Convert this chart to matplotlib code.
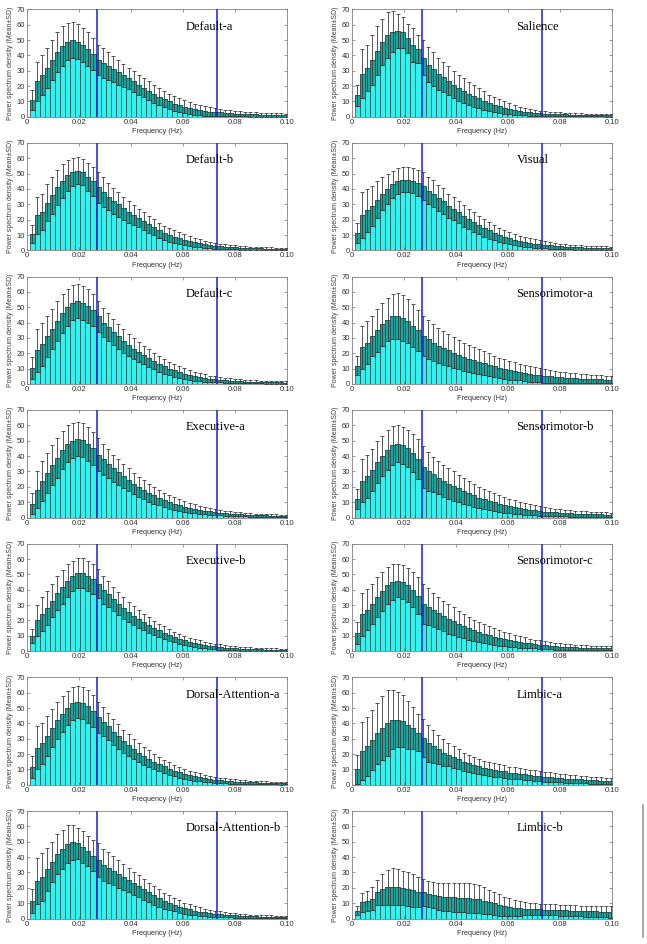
import numpy as np
import matplotlib
matplotlib.use('Agg')
import matplotlib.pyplot as plt
from matplotlib.lines import Line2D

# frequency bins (Hz), resolution 1/512
freq = np.arange(1, 52) / 512.0
band_lo, band_hi = 0.027, 0.073

names = ['Default-a', 'Salience', 'Default-b', 'Visual', 'Default-c', 'Sensorimotor-a',
         'Executive-a', 'Sensorimotor-b', 'Executive-b', 'Sensorimotor-c',
         'Dorsal-Attention-a', 'Limbic-a', 'Dorsal-Attention-b', 'Limbic-b']

default_a_mean = [11, 23, 27, 32, 37, 42, 46, 49, 50, 49, 47, 44, 41, 37,
                  35, 33, 31, 29, 27, 25, 23, 21, 19, 17, 15, 13, 11.5, 10, 8.5, 7.5,
                  6.5, 5.6, 4.9, 4.3, 3.8, 3.4, 3.1, 2.8, 2.5, 2.3, 2.1, 1.9, 1.8, 1.6, 1.5, 1.4, 1.3, 1.2, 1.1, 1.1, 1.0]
default_a_sd = [6.5, 13, 13, 13, 13, 13, 13, 12, 11.5, 11.5, 11, 11, 10.5, 10,
                9.5, 9, 8.5, 8, 7.5, 7, 6.8, 6.5, 6.2, 6, 5.8, 5.5, 5.2, 5, 4.8, 4.5,
                4.2, 4, 3.7, 3.4, 3.1, 2.8, 2.5, 2.3, 2.1, 1.9, 1.8, 1.7, 1.6, 1.5, 1.4, 1.3, 1.3, 1.2, 1.2, 1.1, 1.1]

salience_mean = [14, 28, 32, 37, 43, 49, 53, 55.5, 56, 55, 51, 47, 44, 38.5,
                 34, 31, 28, 26, 23.5, 21, 19, 17, 15, 13.5, 12, 10.5, 9, 8, 7, 6,
                 5.2, 4.5, 3.9, 3.4, 3, 2.6, 2.3, 2.1, 1.9, 1.7, 1.6, 1.5, 1.4, 1.3, 1.2, 1.1, 1.1, 1.0, 1.0, 0.9, 0.9]
salience_sd = [7, 16, 15, 16, 16, 15, 15, 13.5, 11, 10, 9.5, 11, 9, 11.5,
               11.5, 11, 10.5, 10, 9.5, 9, 8.5, 8, 7.5, 7, 6.5, 6, 5.5, 5, 4.5, 4,
               3.6, 3.2, 2.8, 2.5, 2.2, 2, 1.8, 1.6, 1.5, 1.4, 1.3, 1.2, 1.1, 1.0, 1.0, 0.9, 0.9, 0.8, 0.8, 0.8, 0.8]

default_b_mean = [10.5, 23, 25, 31, 36, 41, 45, 49, 51, 52, 51, 48, 45, 41,
                  38, 35, 32, 30, 27.5, 25, 23, 21, 19, 17, 15, 13, 11.5, 10, 9, 8,
                  7, 6, 5.2, 4.5, 3.9, 3.4, 3, 2.7, 2.4, 2.1, 1.9, 1.7, 1.6, 1.5, 1.4, 1.3, 1.2, 1.1, 1.0, 1.0, 0.9]
default_b_sd = [6, 12, 12, 12, 12, 11.5, 11, 10, 9, 8.5, 8.5, 9, 9.5, 10,
                9.5, 9, 8.5, 8, 7.5, 7, 6.5, 6, 5.8, 5.5, 5.2, 5, 4.7, 4.4, 4.1, 3.8,
                3.5, 3.2, 2.9, 2.6, 2.3, 2.1, 1.9, 1.7, 1.5, 1.4, 1.3, 1.2, 1.1, 1.0, 1.0, 0.9, 0.9, 0.8, 0.8, 0.8, 0.8]

visual_mean = [11.5, 23, 26, 29, 33, 37, 40, 43, 45, 46, 46, 45.5, 44, 42,
               39, 37, 34, 32, 29, 27, 25, 22.5, 20.5, 18.5, 16.5, 14.5, 13, 11.5, 10, 9,
               8, 7, 6.2, 5.5, 4.9, 4.4, 4, 3.6, 3.2, 2.9, 2.6, 2.4, 2.2, 2, 1.9, 1.8, 1.7, 1.6, 1.5, 1.5, 1.4]
visual_sd = [6.5, 15, 14, 13, 12, 11, 10, 9, 8.5, 8, 8, 8, 8.5, 9,
             9, 9, 8.5, 8.5, 8, 7.5, 7.2, 7, 6.7, 6.4, 6, 5.7, 5.4, 5, 4.7, 4.4,
             4.1, 3.8, 3.5, 3.2, 2.9, 2.7, 2.5, 2.3, 2.1, 1.9, 1.8, 1.7, 1.6, 1.5, 1.4, 1.3, 1.3, 1.2, 1.2, 1.1, 1.1]

default_c_mean = [10.5, 22, 26, 31, 36, 41, 46, 50, 53, 54, 53, 51, 48, 44,
                  40, 37, 34, 31, 28, 25.5, 23, 21, 19, 17, 15, 13, 11.5, 10, 8.8, 7.6,
                  6.6, 5.7, 5, 4.4, 3.9, 3.4, 3, 2.7, 2.4, 2.2, 2, 1.8, 1.6, 1.5, 1.4, 1.3, 1.2, 1.1, 1.0, 1.0, 0.9]
default_c_sd = [7, 14, 14, 13.5, 13, 13, 12.5, 12, 11.5, 11, 11, 11, 10.5, 10,
                9.5, 9, 8.5, 8, 7.5, 7, 6.7, 6.4, 6, 5.7, 5.4, 5, 4.7, 4.4, 4.1, 3.8,
                3.5, 3.2, 2.9, 2.6, 2.3, 2.1, 1.9, 1.7, 1.5, 1.4, 1.3, 1.2, 1.1, 1.0, 1.0, 0.9, 0.9, 0.8, 0.8, 0.8, 0.8]

sensorimotor_a_mean = [12, 24, 27, 31, 35, 39, 42, 44, 44, 43, 41, 38, 35, 31,
                       29, 27, 25, 23.5, 22, 20.5, 19, 17.5, 16.5, 15.5, 14.5, 13.5, 12.5, 11.5, 10.5, 9.8,
                       9, 8.4, 7.8, 7.2, 6.6, 6.1, 5.6, 5.2, 4.9, 4.6, 4.3, 4.1, 3.9, 3.7, 3.5, 3.3, 3.2, 3.1, 3.0, 2.9, 2.8]
sensorimotor_a_sd = [6, 14, 14, 13, 14, 14, 14, 14.5, 15, 15, 14.5, 14, 13.5, 13,
                     12.5, 12, 11.5, 11, 10.5, 10, 9.5, 9, 8.7, 8.4, 8, 7.7, 7.4, 7, 6.7, 6.4,
                     6.1, 5.8, 5.5, 5.2, 5, 4.8, 4.6, 4.4, 4.2, 4, 3.8, 3.6, 3.4, 3.2, 3.0, 2.9, 2.8, 2.7, 2.6, 2.5, 2.4]

executive_a_mean = [9, 18, 24, 29, 34, 39, 44, 48, 50, 51, 50.5, 48, 45, 41,
                    38, 35, 32, 29.5, 27, 24.5, 22, 20, 18, 16, 14.5, 13, 11.5, 10.2, 9, 8,
                    7.1, 6.3, 5.6, 5, 4.5, 4, 3.6, 3.2, 2.9, 2.6, 2.3, 2.1, 1.9, 1.7, 1.6, 1.5, 1.4, 1.3, 1.2, 1.1, 1.0]
executive_a_sd = [7, 12, 13, 13, 13, 13, 12.5, 12, 11.5, 11, 11, 11, 11, 10.5,
                  10, 9.5, 9, 8.5, 8, 7.5, 7, 6.6, 6.2, 5.8, 5.4, 5, 4.7, 4.4, 4.1, 3.8,
                  3.5, 3.2, 2.9, 2.6, 2.4, 2.2, 2, 1.8, 1.6, 1.5, 1.4, 1.3, 1.2, 1.1, 1.0, 1.0, 0.9, 0.9, 0.8, 0.8, 0.8]

sensorimotor_b_mean = [12, 24, 27, 31, 36, 40, 44, 47, 48, 47, 45, 42, 38, 33,
                       30, 28, 26, 24, 22, 20.5, 19, 17.5, 16, 14.5, 13, 12, 11, 10, 9, 8.2,
                       7.5, 6.8, 6.2, 5.6, 5.1, 4.7, 4.3, 3.9, 3.6, 3.3, 3.1, 2.9, 2.7, 2.5, 2.4, 2.3, 2.2, 2.1, 2.0, 1.9, 1.8]
sensorimotor_b_sd = [6.5, 14, 14, 13.5, 13.5, 13, 13, 12.5, 12, 12, 12, 12.5, 13, 13.5,
                     12.5, 11.5, 11, 10.5, 10, 9.5, 9, 8.5, 8, 7.5, 7, 6.6, 6.2, 5.8, 5.4, 5,
                     4.7, 4.4, 4.1, 3.8, 3.5, 3.2, 3, 2.8, 2.6, 2.4, 2.3, 2.2, 2.1, 2.0, 1.9, 1.8, 1.7, 1.6, 1.5, 1.5, 1.4]

executive_b_mean = [10, 20, 24, 28, 33, 38, 42, 46, 49, 51, 51, 49, 47, 44,
                    40, 37, 34, 31, 28, 25.5, 23, 21, 19, 17, 15, 13.5, 12, 10.5, 9.2, 8,
                    7, 6.1, 5.3, 4.6, 4, 3.5, 3.1, 2.7, 2.4, 2.1, 1.9, 1.7, 1.5, 1.4, 1.3, 1.2, 1.1, 1.0, 1.0, 0.9, 0.9]
executive_b_sd = [4.5, 10, 11, 11, 11, 11, 11, 10.5, 10, 10, 10, 10, 9.5, 9.5,
                  9, 8.5, 8, 7.5, 7, 6.6, 6.2, 5.8, 5.4, 5, 4.7, 4.4, 4.1, 3.8, 3.5, 3.2,
                  3, 2.8, 2.6, 2.4, 2.2, 2, 1.8, 1.7, 1.6, 1.5, 1.4, 1.3, 1.2, 1.1, 1.0, 1.0, 0.9, 0.9, 0.8, 0.8, 0.8]

sensorimotor_c_mean = [12, 24, 27, 31, 35, 39, 43, 45, 46, 45, 43, 40, 36, 31,
                       29, 27, 25, 23, 21, 19.5, 18, 16.5, 15, 13.5, 12.5, 11.5, 10.5, 9.5, 8.7, 8,
                       7.3, 6.7, 6.1, 5.6, 5.1, 4.7, 4.3, 3.9, 3.6, 3.3, 3.0, 2.8, 2.6, 2.5, 2.4, 2.3, 2.2, 2.1, 2.0, 1.9, 1.8]
sensorimotor_c_sd = [7, 14, 13.5, 13, 13, 12.5, 12, 11.5, 11, 11, 11, 11.5, 12, 13,
                     12, 11, 10.5, 10, 9.5, 9, 8.5, 8, 7.5, 7, 6.6, 6.2, 5.8, 5.4, 5, 4.6,
                     4.3, 4, 3.7, 3.4, 3.1, 2.9, 2.7, 2.5, 2.3, 2.2, 2.1, 2.0, 1.9, 1.8, 1.7, 1.6, 1.5, 1.5, 1.4, 1.4, 1.3]

dorsal_a_mean = [11.5, 24, 27, 32, 37, 42, 46, 50, 53, 54, 53.5, 51, 48, 44,
                 41, 38, 34.5, 31.5, 28.5, 26, 23.5, 21, 19, 17, 15, 13.5, 12, 10.5, 9.3, 8.2,
                 7.2, 6.3, 5.5, 4.8, 4.2, 3.7, 3.3, 2.9, 2.6, 2.3, 2.1, 1.9, 1.7, 1.6, 1.5, 1.4, 1.3, 1.2, 1.1, 1.0, 1.0]
dorsal_a_sd = [7, 14, 13.5, 13, 12.5, 12, 11.5, 11, 10.5, 10.5, 10.5, 10.5, 10.5, 10,
               9.5, 9, 8.5, 8, 7.5, 7, 6.6, 6.2, 5.8, 5.4, 5, 4.7, 4.4, 4.1, 3.8, 3.5,
               3.2, 3, 2.8, 2.6, 2.4, 2.2, 2, 1.8, 1.7, 1.6, 1.5, 1.4, 1.3, 1.2, 1.1, 1.0, 1.0, 0.9, 0.9, 0.9, 0.8]

limbic_a_mean = [10, 22, 25, 29, 33.5, 37, 40, 42.5, 42.5, 41.5, 39, 37, 34, 30.5,
                 27, 25, 23, 21, 19.5, 18, 16.5, 15, 14, 13, 12, 11, 10.3, 9.7, 9.2, 8.7,
                 8.0, 7.6, 7.2, 6.8, 6.4, 6.0, 5.6, 5.3, 5.0, 4.7, 4.4, 4.1, 3.9, 3.7, 3.5, 3.3, 3.1, 2.9, 2.7, 2.5, 2.3]
limbic_a_sd = [9.5, 19, 19, 19.5, 20, 21, 21.5, 19.5, 18, 17, 15.5, 13.5, 12, 12.5,
               12, 10.5, 9.5, 8.5, 7.5, 7, 6.5, 6, 5.7, 5.4, 5.1, 4.8, 4.6, 4.4, 4.2, 4,
               3.9, 3.8, 3.7, 3.6, 3.5, 3.4, 3.3, 3.2, 3.1, 3.0, 2.9, 2.8, 2.7, 2.6, 2.5, 2.4, 2.3, 2.2, 2.1, 2.0, 1.9]

dorsal_b_mean = [11.5, 24.5, 27, 32, 37, 42, 45, 48.5, 49.5, 49, 46.5, 44, 41, 38,
                 35, 33, 31, 29, 27, 25, 23, 21, 19, 17, 15, 13.3, 11.7, 10.3, 9, 7.8,
                 6.8, 5.9, 5.1, 4.5, 4, 3.5, 3.1, 2.8, 2.5, 2.2, 2, 1.8, 1.6, 1.5, 1.4, 1.3, 1.2, 1.1, 1.0, 1.0, 0.9]
dorsal_b_sd = [8, 15, 15.5, 14, 13, 13, 12.5, 12.5, 11.5, 10, 10.5, 10, 10, 11,
               10.5, 10, 9.5, 9, 8.5, 8, 7.6, 7.2, 6.8, 6.4, 6, 5.6, 5.2, 4.8, 4.4, 4,
               3.6, 3.3, 3, 2.7, 2.4, 2.2, 2, 1.8, 1.6, 1.5, 1.4, 1.3, 1.2, 1.1, 1.0, 1.0, 0.9, 0.9, 0.8, 0.8, 0.8]

limbic_b_mean = [5, 10.5, 11.5, 13, 17, 19, 20.2, 20.6, 20.6, 19.8, 19, 18.4, 17.5, 17,
                 16, 15.2, 14.6, 14.2, 13.9, 13.7, 13.6, 13.5, 13.3, 13, 12.4, 11.6, 10.8, 9.8, 8.9, 8,
                 7.3, 6.9, 6.6, 6.4, 6.2, 6.0, 5.9, 5.8, 5.7, 5.6, 5.5, 5.3, 5.2, 5.0, 4.9, 4.8, 4.7, 4.6, 4.5, 4.4, 4.3]
limbic_b_sd = [3, 6, 6.5, 7.5, 8, 10, 11.5, 12, 11.5, 11.2, 11, 10.6, 9.8, 8.8,
               8.5, 8.6, 8.8, 9, 9.1, 9.3, 9.4, 9.5, 9.5, 9.5, 9.1, 8.6, 8, 7.5, 7, 6.3,
               5.8, 5.3, 4.9, 4.4, 4.1, 3.9, 3.7, 3.6, 3.6, 3.6, 3.6, 3.6, 3.5, 3.5, 3.5, 3.5, 3.5, 3.5, 3.6, 3.6, 3.7]

means = [default_a_mean, salience_mean, default_b_mean, visual_mean, default_c_mean,
         sensorimotor_a_mean, executive_a_mean, sensorimotor_b_mean, executive_b_mean,
         sensorimotor_c_mean, dorsal_a_mean, limbic_a_mean, dorsal_b_mean, limbic_b_mean]
sds = [default_a_sd, salience_sd, default_b_sd, visual_sd, default_c_sd,
       sensorimotor_a_sd, executive_a_sd, sensorimotor_b_sd, executive_b_sd,
       sensorimotor_c_sd, dorsal_a_sd, limbic_a_sd, dorsal_b_sd, limbic_b_sd]

W, H = 647, 944
fig = plt.figure(figsize=(W / 100, H / 100), dpi=100)

col_x = [27, 352]
ax_w = 260
ax_h = 107.5
row_top = [9.3, 142.9, 276.5, 410, 543.7, 677.3, 811]
label_x = [0.612, 0.633]

bw = 1 / 512.0
for i, name in enumerate(names):
    r, c = divmod(i, 2)
    left = col_x[c] / W
    bottom = 1 - (row_top[r] + ax_h) / H
    ax = fig.add_axes([left, bottom, ax_w / W, ax_h / H])
    m = np.array(means[i])
    s = np.array(sds[i])
    lo = np.clip(m - s, 0, None)
    ax.bar(freq, m, width=bw, color='#35f0ec', edgecolor='#1c4a48', linewidth=0.5, zorder=1)
    ax.bar(freq, m - lo, bottom=lo, width=bw, color='#1fa39b', edgecolor='#1c4a48', linewidth=0.5, zorder=2)
    ax.errorbar(freq, m, yerr=[m - lo, s], fmt='none', ecolor='#3a3a3a',
                elinewidth=0.6, capsize=1.6, capthick=0.6, zorder=3)
    ax.axvline(band_lo, color='#1e1ed0', lw=1.1, zorder=4)
    ax.axvline(band_hi, color='#1e1ed0', lw=1.1, zorder=4)
    ax.set_xlim(0, 0.1)
    ax.set_ylim(0, 70)
    ax.set_xticks([0, 0.02, 0.04, 0.06, 0.08, 0.1])
    ax.set_xticklabels(['0', '0.02', '0.04', '0.06', '0.08', '0.10'])
    ax.set_yticks(range(0, 71, 10))
    ax.tick_params(direction='in', top=True, right=True, length=2, width=0.5,
                   colors='#707070', labelcolor='#303030', labelsize=5.5, pad=1.5)
    for sp in ax.spines.values():
        sp.set_color('#808080')
        sp.set_linewidth(0.6)
    ax.set_xlabel('Frequency (Hz)', fontsize=5.2, color='#303030', labelpad=1.5,
                  family='Liberation Sans')
    ax.set_ylabel('Power spectrum density (Mean\u00b1SD)', fontsize=5.0, color='#404040',
                  labelpad=2, family='Liberation Sans')
    for lab in ax.get_xticklabels() + ax.get_yticklabels():
        lab.set_family('Liberation Sans')
    ax.text(label_x[c], 0.84, name, transform=ax.transAxes, fontsize=9,
            family='Liberation Serif', va='center', ha='left', zorder=5)

fig.add_artist(Line2D([642.7 / W, 642.7 / W], [1 - 805 / H, 1 - 937 / H],
                      color='#9a9a9a', lw=1.2))

fig.savefig('out.png', dpi=100)
